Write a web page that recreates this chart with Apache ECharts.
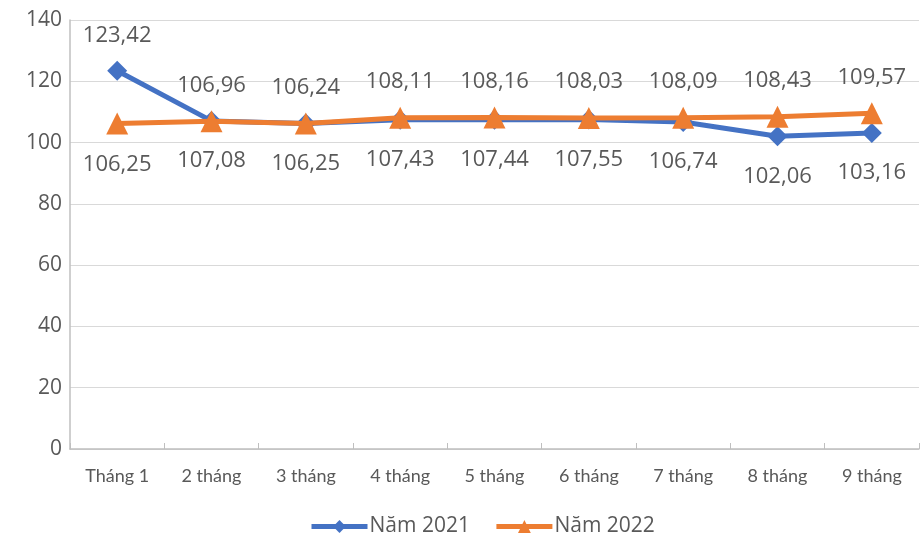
<!DOCTYPE html>
<html>
<head>
<meta charset="utf-8">
<script src="https://cdn.jsdelivr.net/npm/echarts@6/dist/echarts.min.js"></script>
<style>
  html, body { margin: 0; padding: 0; background: #fff; }
  #chart { width: 920px; height: 540px; }
</style>
</head>
<body>
<div id="chart"></div>
<script>
// Cumulative industrial index by period (%, same period previous year = 100)
const categories = ['Tháng 1', '2 tháng', '3 tháng', '4 tháng', '5 tháng', '6 tháng', '7 tháng', '8 tháng', '9 tháng'];
const values2021 = [123.42, 107.08, 106.25, 107.43, 107.44, 107.55, 106.74, 102.06, 103.16];
const values2022 = [106.25, 106.96, 106.24, 108.11, 108.16, 108.03, 108.09, 108.43, 109.57];
// Which side of the point each value label sits on
const labelSide2021 = ['top', 'bottom', 'bottom', 'bottom', 'bottom', 'bottom', 'bottom', 'bottom', 'bottom'];
const labelSide2022 = ['bottom', 'top', 'top', 'top', 'top', 'top', 'top', 'top', 'top'];

const textColor = '#595959';
const fontFamily = '"Open Sans", "Noto Sans", sans-serif';

function withLabels(values, sides) {
  return values.map((v, i) => ({
    value: v,
    label: { position: sides[i], distance: sides[i] === 'top' ? 14 : 19 }
  }));
}

const labelStyle = {
  show: true,
  color: textColor,
  fontSize: 22,
  fontFamily: fontFamily,
  formatter: p => p.value.toFixed(2).replace('.', ',')
};

const chart = echarts.init(document.getElementById('chart'));
chart.setOption({
  animation: false,
  grid: { left: 70, right: 1, top: 20, bottom: 91 },
  legend: {
    bottom: -2,
    left: 304,
    itemWidth: 56,
    itemHeight: 16,
    itemGap: 24,
    lineStyle: { width: 5 },
    textStyle: { color: textColor, fontSize: 21, fontFamily: fontFamily, padding: [0, 0, 0, -3] },
    data: ['Năm 2021', 'Năm 2022']
  },
  xAxis: {
    type: 'category',
    data: categories,
    boundaryGap: true,
    axisLine: { lineStyle: { color: '#bfbfbf', width: 1.5 } },
    axisTick: { show: true, inside: true, length: 6, lineStyle: { color: '#bfbfbf' } },
    axisLabel: { color: textColor, fontSize: 18, fontFamily: 'Lato, "Open Sans", sans-serif', margin: 18 }
  },
  yAxis: {
    type: 'value',
    min: 0,
    max: 140,
    interval: 20,
    axisLine: { show: true, lineStyle: { color: '#bfbfbf', width: 1.5 } },
    axisTick: { show: false },
    splitLine: { lineStyle: { color: '#d9d9d9', width: 1.2 } },
    axisLabel: { color: textColor, fontSize: 21, fontFamily: fontFamily, margin: 8 }
  },
  series: [
    {
      name: 'Năm 2021',
      type: 'line',
      data: withLabels(values2021, labelSide2021),
      symbol: 'diamond',
      symbolSize: 20,
      lineStyle: { color: '#4472c4', width: 5 },
      itemStyle: { color: '#4472c4' },
      label: labelStyle,
      z: 2
    },
    {
      name: 'Năm 2022',
      type: 'line',
      data: withLabels(values2022, labelSide2022),
      symbol: 'triangle',
      symbolSize: 22,
      lineStyle: { color: '#ed7d31', width: 5 },
      itemStyle: { color: '#ed7d31' },
      label: labelStyle,
      z: 3
    }
  ]
});
</script>
</body>
</html>
